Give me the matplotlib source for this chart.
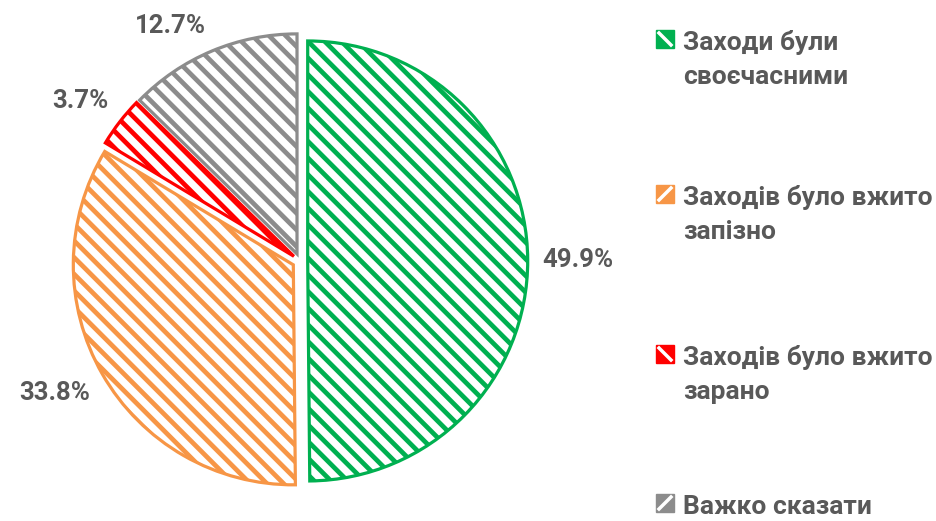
import matplotlib
matplotlib.use("Agg")
import numpy as np
import matplotlib.pyplot as plt
from matplotlib.patches import Rectangle
from matplotlib.lines import Line2D

plt.rcParams['font.family'] = ['Roboto', 'DejaVu Sans']
plt.rcParams['hatch.linewidth'] = 3.4

# дані
labels = ["Заходи були\nсвоєчасними", "Заходів було вжито\nзапізно",
          "Заходів було вжито\nзарано", "Важко сказати"]
values = [49.9, 33.8, 3.7, 12.7]
colors = ["#00B050", "#F79646", "#FF0000", "#8C8C8C"]
text_color = "#595959"

DPI = 100
W, H = 936, 521
fig = plt.figure(figsize=(W / DPI, H / DPI), dpi=DPI)
R = 220          # радіус у пікселях
cx, cy = 300, 261
lim = 1.2
ax = fig.add_axes([(cx - R * lim) / W, (H - cy - R * lim) / H,
                   2 * R * lim / W, 2 * R * lim / H])

wedges, texts, autotexts = ax.pie(
    values, startangle=90, counterclock=False, explode=[0.035] * 4,
    colors=["white"] * 4, autopct="%.1f%%", pctdistance=1.065,
    wedgeprops=dict(linewidth=2.3),
    textprops=dict(fontsize=18.5, fontweight="bold", color=text_color))
for w, c, t in zip(wedges, colors, autotexts):
    w.set_edgecolor(c)
    w.set_hatch("\\\\")
    w.set_clip_on(False)
    # підписи як "біля краю зовні" в Excel
    a = np.deg2rad((w.theta1 + w.theta2) / 2)
    t.set_ha("left" if np.cos(a) > 0 else "right")
    if abs(np.sin(a)) < 0.3:
        t.set_va("center")
    else:
        t.set_va("bottom" if np.sin(a) > 0 else "top")
ax.set_xlim(-lim, lim)
ax.set_ylim(-lim, lim)
ax.axis("off")

# легенда вручну
ys = [50, 205, 365, 514]   # базова лінія першого рядка
diag = [-1, 1, -1, 1]
step = 34
s = 18
for lab, c, y, d in zip(labels, colors, ys, diag):
    mc = y - 11
    fig.add_artist(Rectangle(((665 - s / 2) / W, (H - mc - s / 2) / H), s / W, s / H,
                             facecolor=c, edgecolor=c, transform=fig.transFigure))
    fig.add_artist(Line2D([659 / W, 671 / W], [(H - mc - 6 * d) / H, (H - mc + 6 * d) / H],
                          color="white", lw=2.5, transform=fig.transFigure))
    for i, line in enumerate(lab.split("\n")):
        fig.text(683 / W, (H - y - i * step) / H, line, fontsize=19,
                 fontweight="bold", color=text_color, va="baseline", ha="left",
                 transform=fig.transFigure)

fig.savefig("out.png", dpi=DPI)
